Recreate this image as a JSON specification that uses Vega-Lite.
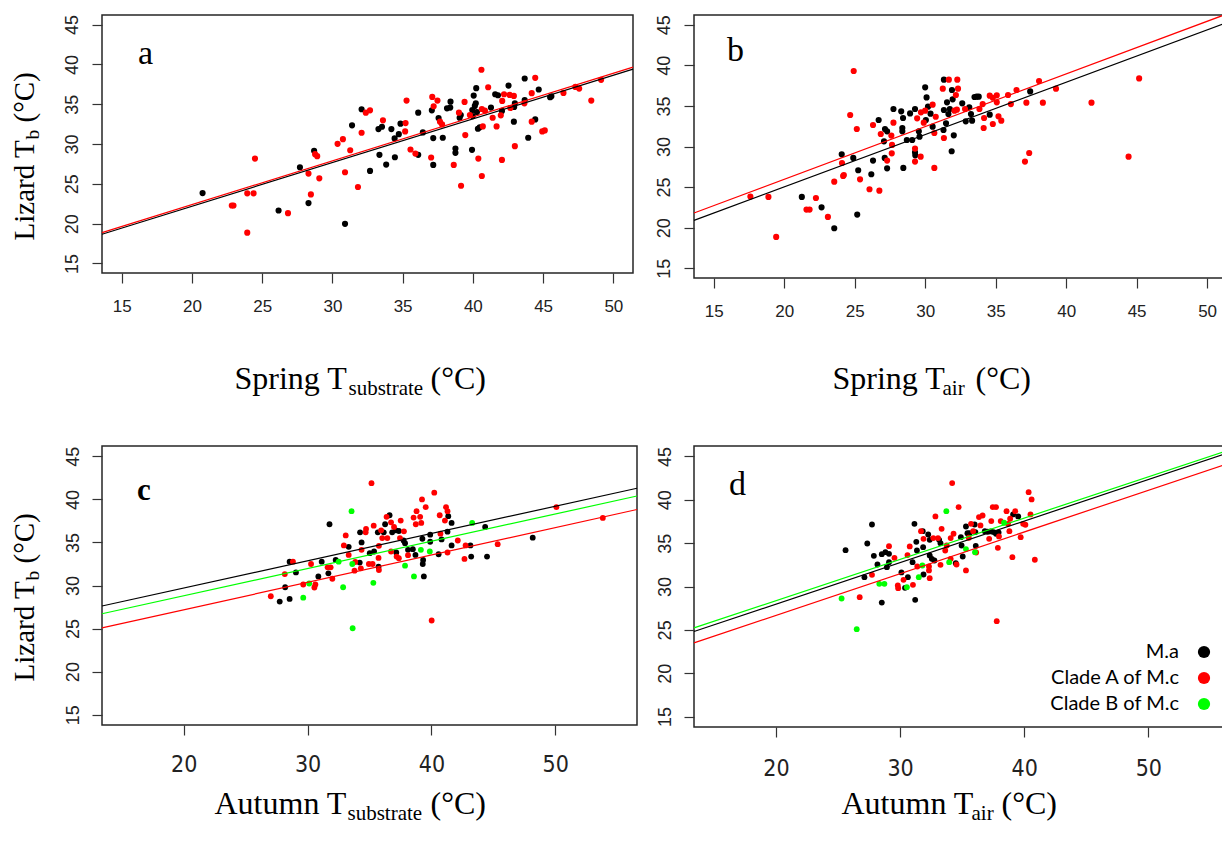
{
"$schema": "https://vega.github.io/schema/vega-lite/v6.json",
"background": "white",
"padding": {"left": 9, "top": 11, "right": 0, "bottom": 0},
"columns": 2,
"spacing": {"row": 168, "column": 57},
"bounds": "flush",
"resolve": {"scale": {"color": "independent"}, "legend": {"color": "independent"}},
"config": {
 "view": {"stroke": "#262626", "strokeWidth": 1.5},
 "axis": {"grid": false, "domain": false, "labelFlush": false, "labelOverlap": false, "titleFontWeight": "normal", "tickColor": "#333333", "tickWidth": 1.2, "tickSize": 10},
 "title": {"fontWeight": "normal"}
},
"datasets": {
 "a": [
{"g":"M.a","x":20.76,"y":23.84},{"g":"M.a","x":26.17,"y":21.65},{"g":"M.a","x":28.30,"y":22.58},{"g":"M.a","x":27.69,"y":27.08},{"g":"M.a","x":28.70,"y":29.14},{"g":"M.a","x":30.90,"y":19.97},{"g":"M.a","x":31.40,"y":32.34},{"g":"M.a","x":32.08,"y":34.36},{"g":"M.a","x":32.68,"y":26.62},{"g":"M.a","x":33.35,"y":28.64},{"g":"M.a","x":33.28,"y":31.87},{"g":"M.a","x":33.53,"y":32.17},{"g":"M.a","x":33.83,"y":27.41},{"g":"M.a","x":34.20,"y":31.87},{"g":"M.a","x":34.43,"y":30.70},{"g":"M.a","x":34.45,"y":28.34},{"g":"M.a","x":34.73,"y":31.24},{"g":"M.a","x":34.85,"y":32.55},{"g":"M.a","x":36.11,"y":33.94},{"g":"M.a","x":36.11,"y":28.64},{"g":"M.a","x":36.44,"y":31.45},{"g":"M.a","x":37.08,"y":34.23},{"g":"M.a","x":37.18,"y":30.74},{"g":"M.a","x":37.18,"y":27.37},{"g":"M.a","x":37.56,"y":33.26},{"g":"M.a","x":37.86,"y":30.78},{"g":"M.a","x":38.16,"y":34.48},{"g":"M.a","x":38.41,"y":35.32},{"g":"M.a","x":38.39,"y":34.57},{"g":"M.a","x":38.76,"y":29.43},{"g":"M.a","x":38.76,"y":28.89},{"g":"M.a","x":39.06,"y":33.30},{"g":"M.a","x":39.14,"y":33.64},{"g":"M.a","x":39.94,"y":29.27},{"g":"M.a","x":39.99,"y":33.51},{"g":"M.a","x":40.06,"y":36.08},{"g":"M.a","x":40.14,"y":34.78},{"g":"M.a","x":40.21,"y":35.11},{"g":"M.a","x":40.24,"y":37.01},{"g":"M.a","x":40.29,"y":34.02},{"g":"M.a","x":40.36,"y":31.92},{"g":"M.a","x":40.49,"y":32.09},{"g":"M.a","x":41.29,"y":34.57},{"g":"M.a","x":41.59,"y":36.25},{"g":"M.a","x":41.79,"y":36.12},{"g":"M.a","x":42.07,"y":34.15},{"g":"M.a","x":42.54,"y":37.34},{"g":"M.a","x":42.92,"y":32.80},{"g":"M.a","x":42.94,"y":34.65},{"g":"M.a","x":42.99,"y":35.11},{"g":"M.a","x":43.69,"y":38.23},{"g":"M.a","x":43.69,"y":35.53},{"g":"M.a","x":43.94,"y":30.78},{"g":"M.a","x":44.44,"y":33.09},{"g":"M.a","x":44.69,"y":36.84},{"g":"M.a","x":45.50,"y":35.87},{"g":"M.a","x":45.59,"y":36.00},{"g":"M.a","x":39.96,"y":34.27},
{"g":"Clade A of M.c","x":22.84,"y":22.28},{"g":"Clade A of M.c","x":22.96,"y":22.28},{"g":"Clade A of M.c","x":23.94,"y":23.80},{"g":"Clade A of M.c","x":24.39,"y":23.80},{"g":"Clade A of M.c","x":24.49,"y":28.17},{"g":"Clade A of M.c","x":23.94,"y":18.87},{"g":"Clade A of M.c","x":26.84,"y":21.31},{"g":"Clade A of M.c","x":28.47,"y":23.67},{"g":"Clade A of M.c","x":28.30,"y":26.28},{"g":"Clade A of M.c","x":29.07,"y":25.69},{"g":"Clade A of M.c","x":28.77,"y":28.72},{"g":"Clade A of M.c","x":28.92,"y":28.47},{"g":"Clade A of M.c","x":30.37,"y":30.02},{"g":"Clade A of M.c","x":30.75,"y":30.61},{"g":"Clade A of M.c","x":30.90,"y":26.45},{"g":"Clade A of M.c","x":31.27,"y":29.22},{"g":"Clade A of M.c","x":31.82,"y":24.60},{"g":"Clade A of M.c","x":32.08,"y":31.41},{"g":"Clade A of M.c","x":32.38,"y":33.94},{"g":"Clade A of M.c","x":32.68,"y":34.23},{"g":"Clade A of M.c","x":33.60,"y":32.97},{"g":"Clade A of M.c","x":35.21,"y":32.63},{"g":"Clade A of M.c","x":35.18,"y":31.58},{"g":"Clade A of M.c","x":35.28,"y":35.45},{"g":"Clade A of M.c","x":35.56,"y":29.31},{"g":"Clade A of M.c","x":35.91,"y":28.80},{"g":"Clade A of M.c","x":37.03,"y":28.30},{"g":"Clade A of M.c","x":37.11,"y":35.91},{"g":"Clade A of M.c","x":37.21,"y":34.74},{"g":"Clade A of M.c","x":37.48,"y":35.45},{"g":"Clade A of M.c","x":37.66,"y":32.80},{"g":"Clade A of M.c","x":37.81,"y":32.46},{"g":"Clade A of M.c","x":38.64,"y":27.37},{"g":"Clade A of M.c","x":39.01,"y":33.94},{"g":"Clade A of M.c","x":39.16,"y":24.76},{"g":"Clade A of M.c","x":39.41,"y":35.28},{"g":"Clade A of M.c","x":39.46,"y":31.12},{"g":"Clade A of M.c","x":39.79,"y":33.64},{"g":"Clade A of M.c","x":40.39,"y":28.17},{"g":"Clade A of M.c","x":40.61,"y":39.32},{"g":"Clade A of M.c","x":40.64,"y":25.98},{"g":"Clade A of M.c","x":40.64,"y":34.40},{"g":"Clade A of M.c","x":40.71,"y":32.21},{"g":"Clade A of M.c","x":40.86,"y":34.19},{"g":"Clade A of M.c","x":41.09,"y":37.13},{"g":"Clade A of M.c","x":41.41,"y":33.30},{"g":"Clade A of M.c","x":41.69,"y":32.21},{"g":"Clade A of M.c","x":41.99,"y":33.60},{"g":"Clade A of M.c","x":42.07,"y":28.00},{"g":"Clade A of M.c","x":42.09,"y":35.41},{"g":"Clade A of M.c","x":42.22,"y":36.25},{"g":"Clade A of M.c","x":42.62,"y":36.16},{"g":"Clade A of M.c","x":42.92,"y":36.04},{"g":"Clade A of M.c","x":42.67,"y":34.52},{"g":"Clade A of M.c","x":42.99,"y":29.73},{"g":"Clade A of M.c","x":43.67,"y":35.11},{"g":"Clade A of M.c","x":44.19,"y":36.38},{"g":"Clade A of M.c","x":44.19,"y":32.80},{"g":"Clade A of M.c","x":44.44,"y":38.31},{"g":"Clade A of M.c","x":44.94,"y":31.58},{"g":"Clade A of M.c","x":45.12,"y":31.71},{"g":"Clade A of M.c","x":46.45,"y":36.42},{"g":"Clade A of M.c","x":47.30,"y":37.17},{"g":"Clade A of M.c","x":47.57,"y":36.96},{"g":"Clade A of M.c","x":48.43,"y":35.45},{"g":"Clade A of M.c","x":49.13,"y":38.06}
 ],
 "aL": [
{"g":"M.a","x":13.6,"y":18.67},{"g":"M.a","x":51.4,"y":39.4},
{"g":"Clade A of M.c","x":13.6,"y":18.87},{"g":"Clade A of M.c","x":51.4,"y":39.65}
 ],
 "b": [
{"g":"M.a","x":21.25,"y":23.79},{"g":"M.a","x":22.65,"y":22.51},{"g":"M.a","x":23.55,"y":19.93},{"g":"M.a","x":25.18,"y":21.61},{"g":"M.a","x":24.08,"y":29.04},{"g":"M.a","x":24.90,"y":28.59},{"g":"M.a","x":25.25,"y":27.07},{"g":"M.a","x":26.18,"y":26.58},{"g":"M.a","x":26.30,"y":28.26},{"g":"M.a","x":26.70,"y":33.26},{"g":"M.a","x":27.08,"y":30.64},{"g":"M.a","x":27.15,"y":32.16},{"g":"M.a","x":27.30,"y":31.87},{"g":"M.a","x":27.13,"y":28.59},{"g":"M.a","x":27.30,"y":27.31},{"g":"M.a","x":27.75,"y":34.62},{"g":"M.a","x":28.30,"y":34.33},{"g":"M.a","x":28.43,"y":33.51},{"g":"M.a","x":28.38,"y":32.28},{"g":"M.a","x":28.38,"y":31.87},{"g":"M.a","x":28.45,"y":27.36},{"g":"M.a","x":28.70,"y":30.80},{"g":"M.a","x":28.93,"y":34.08},{"g":"M.a","x":29.08,"y":30.80},{"g":"M.a","x":29.28,"y":34.62},{"g":"M.a","x":29.28,"y":29.28},{"g":"M.a","x":29.30,"y":28.91},{"g":"M.a","x":29.55,"y":31.87},{"g":"M.a","x":29.60,"y":31.21},{"g":"M.a","x":30.00,"y":37.29},{"g":"M.a","x":30.10,"y":36.05},{"g":"M.a","x":30.20,"y":34.91},{"g":"M.a","x":30.05,"y":33.26},{"g":"M.a","x":30.38,"y":34.04},{"g":"M.a","x":30.53,"y":32.44},{"g":"M.a","x":31.33,"y":38.23},{"g":"M.a","x":31.33,"y":34.50},{"g":"M.a","x":31.30,"y":32.03},{"g":"M.a","x":31.48,"y":32.85},{"g":"M.a","x":31.55,"y":35.44},{"g":"M.a","x":31.65,"y":34.00},{"g":"M.a","x":31.75,"y":34.62},{"g":"M.a","x":31.90,"y":36.96},{"g":"M.a","x":31.95,"y":35.81},{"g":"M.a","x":31.88,"y":29.41},{"g":"M.a","x":32.03,"y":31.38},{"g":"M.a","x":32.63,"y":35.32},{"g":"M.a","x":32.88,"y":33.10},{"g":"M.a","x":33.13,"y":34.82},{"g":"M.a","x":33.25,"y":34.00},{"g":"M.a","x":33.33,"y":33.18},{"g":"M.a","x":33.50,"y":36.10},{"g":"M.a","x":33.65,"y":36.14},{"g":"M.a","x":33.80,"y":36.14},{"g":"M.a","x":34.58,"y":33.92},{"g":"M.a","x":37.45,"y":36.79},
{"g":"Clade A of M.c","x":17.60,"y":23.83},{"g":"Clade A of M.c","x":18.88,"y":23.79},{"g":"Clade A of M.c","x":19.43,"y":18.86},{"g":"Clade A of M.c","x":21.58,"y":22.23},{"g":"Clade A of M.c","x":21.80,"y":22.23},{"g":"Clade A of M.c","x":22.25,"y":23.66},{"g":"Clade A of M.c","x":23.10,"y":21.32},{"g":"Clade A of M.c","x":23.55,"y":25.67},{"g":"Clade A of M.c","x":24.10,"y":27.97},{"g":"Clade A of M.c","x":24.18,"y":26.37},{"g":"Clade A of M.c","x":24.23,"y":26.49},{"g":"Clade A of M.c","x":24.68,"y":33.88},{"g":"Clade A of M.c","x":24.93,"y":39.30},{"g":"Clade A of M.c","x":25.15,"y":32.16},{"g":"Clade A of M.c","x":25.38,"y":25.96},{"g":"Clade A of M.c","x":26.05,"y":24.73},{"g":"Clade A of M.c","x":26.30,"y":32.65},{"g":"Clade A of M.c","x":26.75,"y":24.56},{"g":"Clade A of M.c","x":26.85,"y":31.54},{"g":"Clade A of M.c","x":27.30,"y":28.26},{"g":"Clade A of M.c","x":27.63,"y":29.16},{"g":"Clade A of M.c","x":27.65,"y":30.19},{"g":"Clade A of M.c","x":27.75,"y":32.94},{"g":"Clade A of M.c","x":27.60,"y":31.34},{"g":"Clade A of M.c","x":29.28,"y":29.74},{"g":"Clade A of M.c","x":29.28,"y":28.14},{"g":"Clade A of M.c","x":29.43,"y":33.47},{"g":"Clade A of M.c","x":29.68,"y":28.75},{"g":"Clade A of M.c","x":29.70,"y":34.21},{"g":"Clade A of M.c","x":29.90,"y":32.94},{"g":"Clade A of M.c","x":30.00,"y":34.41},{"g":"Clade A of M.c","x":30.53,"y":35.15},{"g":"Clade A of M.c","x":30.65,"y":31.66},{"g":"Clade A of M.c","x":30.75,"y":33.67},{"g":"Clade A of M.c","x":30.65,"y":27.36},{"g":"Clade A of M.c","x":31.25,"y":37.12},{"g":"Clade A of M.c","x":31.33,"y":31.05},{"g":"Clade A of M.c","x":31.68,"y":38.23},{"g":"Clade A of M.c","x":32.28,"y":38.23},{"g":"Clade A of M.c","x":32.33,"y":37.12},{"g":"Clade A of M.c","x":32.18,"y":36.34},{"g":"Clade A of M.c","x":32.08,"y":34.41},{"g":"Clade A of M.c","x":32.25,"y":34.54},{"g":"Clade A of M.c","x":32.83,"y":34.62},{"g":"Clade A of M.c","x":33.85,"y":34.62},{"g":"Clade A of M.c","x":34.08,"y":35.23},{"g":"Clade A of M.c","x":34.18,"y":33.51},{"g":"Clade A of M.c","x":34.15,"y":32.28},{"g":"Clade A of M.c","x":34.58,"y":36.26},{"g":"Clade A of M.c","x":34.80,"y":36.01},{"g":"Clade A of M.c","x":35.08,"y":36.30},{"g":"Clade A of M.c","x":35.08,"y":35.44},{"g":"Clade A of M.c","x":34.80,"y":32.77},{"g":"Clade A of M.c","x":35.20,"y":33.72},{"g":"Clade A of M.c","x":35.40,"y":33.18},{"g":"Clade A of M.c","x":35.88,"y":36.34},{"g":"Clade A of M.c","x":36.08,"y":35.23},{"g":"Clade A of M.c","x":36.48,"y":36.96},{"g":"Clade A of M.c","x":37.08,"y":28.14},{"g":"Clade A of M.c","x":37.18,"y":35.40},{"g":"Clade A of M.c","x":37.38,"y":29.20},{"g":"Clade A of M.c","x":38.08,"y":38.07},{"g":"Clade A of M.c","x":38.35,"y":35.40},{"g":"Clade A of M.c","x":39.28,"y":37.12},{"g":"Clade A of M.c","x":41.80,"y":35.40},{"g":"Clade A of M.c","x":44.43,"y":28.75},{"g":"Clade A of M.c","x":45.18,"y":38.39}
 ],
 "bL": [
{"g":"M.a","x":13.6,"y":20.9},{"g":"M.a","x":51.2,"y":45.15},
{"g":"Clade A of M.c","x":13.6,"y":21.8},{"g":"Clade A of M.c","x":51.2,"y":46.2}
 ],
 "c": [
{"g":"M.a","x":27.75,"y":28.13},{"g":"M.a","x":28.55,"y":28.44},{"g":"M.a","x":28.19,"y":29.80},{"g":"M.a","x":29.06,"y":31.52},{"g":"M.a","x":28.55,"y":32.77},{"g":"M.a","x":30.87,"y":31.05},{"g":"M.a","x":31.14,"y":32.77},{"g":"M.a","x":31.68,"y":31.41},{"g":"M.a","x":31.77,"y":37.11},{"g":"M.a","x":32.27,"y":32.97},{"g":"M.a","x":33.32,"y":34.49},{"g":"M.a","x":34.24,"y":36.17},{"g":"M.a","x":34.36,"y":35.00},{"g":"M.a","x":34.21,"y":32.66},{"g":"M.a","x":35.02,"y":33.75},{"g":"M.a","x":35.37,"y":33.95},{"g":"M.a","x":35.67,"y":36.17},{"g":"M.a","x":36.15,"y":36.17},{"g":"M.a","x":36.26,"y":37.11},{"g":"M.a","x":36.62,"y":38.16},{"g":"M.a","x":36.83,"y":36.17},{"g":"M.a","x":37.13,"y":36.41},{"g":"M.a","x":37.37,"y":36.33},{"g":"M.a","x":37.16,"y":33.83},{"g":"M.a","x":37.75,"y":35.23},{"g":"M.a","x":37.87,"y":34.92},{"g":"M.a","x":38.11,"y":34.14},{"g":"M.a","x":38.50,"y":34.22},{"g":"M.a","x":38.71,"y":33.55},{"g":"M.a","x":35.73,"y":32.19},{"g":"M.a","x":39.27,"y":35.43},{"g":"M.a","x":39.33,"y":32.97},{"g":"M.a","x":39.30,"y":32.50},{"g":"M.a","x":39.39,"y":31.05},{"g":"M.a","x":39.90,"y":35.90},{"g":"M.a","x":39.90,"y":35.08},{"g":"M.a","x":40.58,"y":33.63},{"g":"M.a","x":40.82,"y":35.35},{"g":"M.a","x":41.30,"y":36.25},{"g":"M.a","x":41.36,"y":38.05},{"g":"M.a","x":41.63,"y":37.27},{"g":"M.a","x":41.63,"y":34.65},{"g":"M.a","x":43.15,"y":34.65},{"g":"M.a","x":43.21,"y":33.36},{"g":"M.a","x":44.34,"y":36.80},{"g":"M.a","x":44.49,"y":33.36},{"g":"M.a","x":48.18,"y":35.55},
{"g":"Clade A of M.c","x":27.03,"y":28.75},{"g":"Clade A of M.c","x":28.16,"y":31.33},{"g":"Clade A of M.c","x":28.82,"y":32.77},{"g":"Clade A of M.c","x":29.65,"y":30.12},{"g":"Clade A of M.c","x":30.28,"y":32.50},{"g":"Clade A of M.c","x":30.55,"y":29.77},{"g":"Clade A of M.c","x":30.63,"y":30.12},{"g":"Clade A of M.c","x":31.62,"y":32.11},{"g":"Clade A of M.c","x":31.86,"y":32.11},{"g":"Clade A of M.c","x":32.00,"y":30.78},{"g":"Clade A of M.c","x":32.93,"y":34.65},{"g":"Clade A of M.c","x":33.08,"y":35.82},{"g":"Clade A of M.c","x":33.32,"y":33.55},{"g":"Clade A of M.c","x":33.79,"y":31.72},{"g":"Clade A of M.c","x":33.85,"y":32.73},{"g":"Clade A of M.c","x":34.30,"y":31.99},{"g":"Clade A of M.c","x":34.36,"y":34.14},{"g":"Clade A of M.c","x":34.69,"y":36.17},{"g":"Clade A of M.c","x":34.72,"y":36.56},{"g":"Clade A of M.c","x":34.95,"y":32.50},{"g":"Clade A of M.c","x":35.25,"y":32.50},{"g":"Clade A of M.c","x":35.16,"y":41.88},{"g":"Clade A of M.c","x":35.34,"y":36.95},{"g":"Clade A of M.c","x":35.76,"y":34.61},{"g":"Clade A of M.c","x":35.73,"y":33.20},{"g":"Clade A of M.c","x":35.76,"y":31.80},{"g":"Clade A of M.c","x":35.94,"y":36.41},{"g":"Clade A of M.c","x":36.03,"y":35.51},{"g":"Clade A of M.c","x":36.38,"y":37.97},{"g":"Clade A of M.c","x":36.44,"y":35.51},{"g":"Clade A of M.c","x":36.74,"y":37.34},{"g":"Clade A of M.c","x":36.74,"y":33.95},{"g":"Clade A of M.c","x":36.98,"y":36.80},{"g":"Clade A of M.c","x":37.19,"y":33.36},{"g":"Clade A of M.c","x":37.37,"y":33.16},{"g":"Clade A of M.c","x":37.46,"y":35.51},{"g":"Clade A of M.c","x":37.52,"y":37.54},{"g":"Clade A of M.c","x":37.78,"y":36.29},{"g":"Clade A of M.c","x":38.11,"y":33.52},{"g":"Clade A of M.c","x":38.56,"y":37.89},{"g":"Clade A of M.c","x":38.74,"y":37.11},{"g":"Clade A of M.c","x":38.80,"y":38.63},{"g":"Clade A of M.c","x":39.09,"y":37.97},{"g":"Clade A of M.c","x":39.18,"y":37.27},{"g":"Clade A of M.c","x":39.24,"y":40.00},{"g":"Clade A of M.c","x":39.54,"y":39.10},{"g":"Clade A of M.c","x":40.02,"y":25.94},{"g":"Clade A of M.c","x":40.23,"y":40.78},{"g":"Clade A of M.c","x":40.67,"y":38.16},{"g":"Clade A of M.c","x":40.73,"y":36.02},{"g":"Clade A of M.c","x":41.09,"y":37.54},{"g":"Clade A of M.c","x":41.18,"y":39.10},{"g":"Clade A of M.c","x":41.30,"y":38.63},{"g":"Clade A of M.c","x":41.30,"y":33.83},{"g":"Clade A of M.c","x":42.13,"y":35.23},{"g":"Clade A of M.c","x":42.67,"y":33.09},{"g":"Clade A of M.c","x":42.76,"y":34.65},{"g":"Clade A of M.c","x":45.35,"y":34.80},{"g":"Clade A of M.c","x":50.09,"y":39.10},{"g":"Clade A of M.c","x":53.84,"y":37.85},
{"g":"Clade B of M.c","x":29.65,"y":28.59},{"g":"Clade B of M.c","x":30.13,"y":30.23},{"g":"Clade B of M.c","x":32.51,"y":32.77},{"g":"Clade B of M.c","x":32.87,"y":29.80},{"g":"Clade B of M.c","x":33.55,"y":38.63},{"g":"Clade B of M.c","x":33.61,"y":32.50},{"g":"Clade B of M.c","x":33.64,"y":25.04},{"g":"Clade B of M.c","x":35.31,"y":30.31},{"g":"Clade B of M.c","x":37.87,"y":32.30},{"g":"Clade B of M.c","x":38.59,"y":31.05},{"g":"Clade B of M.c","x":39.15,"y":34.14},{"g":"Clade B of M.c","x":39.87,"y":33.95},{"g":"Clade B of M.c","x":43.29,"y":37.27}
 ],
 "cL": [
{"g":"M.a","x":13.4,"y":27.62},{"g":"M.a","x":56.6,"y":41.29},
{"g":"Clade A of M.c","x":13.4,"y":25.08},{"g":"Clade A of M.c","x":56.6,"y":38.83},
{"g":"Clade B of M.c","x":13.4,"y":26.72},{"g":"Clade B of M.c","x":56.6,"y":40.39}
 ],
 "d": [
{"g":"M.a","x":25.61,"y":34.19},{"g":"M.a","x":27.13,"y":31.08},{"g":"M.a","x":27.36,"y":34.96},{"g":"M.a","x":27.74,"y":37.15},{"g":"M.a","x":27.89,"y":33.54},{"g":"M.a","x":28.18,"y":32.54},{"g":"M.a","x":28.53,"y":28.15},{"g":"M.a","x":28.53,"y":33.73},{"g":"M.a","x":28.82,"y":33.96},{"g":"M.a","x":28.94,"y":32.23},{"g":"M.a","x":29.11,"y":33.77},{"g":"M.a","x":29.11,"y":32.81},{"g":"M.a","x":30.11,"y":31.62},{"g":"M.a","x":30.40,"y":29.85},{"g":"M.a","x":30.63,"y":31.08},{"g":"M.a","x":31.01,"y":32.81},{"g":"M.a","x":31.16,"y":37.23},{"g":"M.a","x":31.22,"y":28.46},{"g":"M.a","x":31.31,"y":35.15},{"g":"M.a","x":31.36,"y":34.15},{"g":"M.a","x":31.83,"y":36.38},{"g":"M.a","x":31.86,"y":34.54},{"g":"M.a","x":31.89,"y":31.38},{"g":"M.a","x":32.27,"y":36.00},{"g":"M.a","x":32.39,"y":35.38},{"g":"M.a","x":32.39,"y":33.58},{"g":"M.a","x":32.56,"y":33.19},{"g":"M.a","x":32.77,"y":33.00},{"g":"M.a","x":33.15,"y":35.38},{"g":"M.a","x":33.26,"y":35.00},{"g":"M.a","x":34.49,"y":32.69},{"g":"M.a","x":34.90,"y":35.69},{"g":"M.a","x":34.96,"y":34.73},{"g":"M.a","x":35.05,"y":33.46},{"g":"M.a","x":35.31,"y":36.92},{"g":"M.a","x":35.43,"y":36.15},{"g":"M.a","x":35.60,"y":36.15},{"g":"M.a","x":36.01,"y":37.15},{"g":"M.a","x":36.07,"y":36.27},{"g":"M.a","x":36.10,"y":34.69},{"g":"M.a","x":36.83,"y":36.38},{"g":"M.a","x":37.06,"y":36.31},{"g":"M.a","x":37.29,"y":36.35},{"g":"M.a","x":37.53,"y":36.27},{"g":"M.a","x":37.73,"y":36.08},{"g":"M.a","x":37.94,"y":36.23},{"g":"M.a","x":39.11,"y":38.31},{"g":"M.a","x":39.52,"y":38.08},
{"g":"Clade A of M.c","x":26.75,"y":28.77},{"g":"Clade A of M.c","x":27.74,"y":31.35},{"g":"Clade A of M.c","x":29.11,"y":34.65},{"g":"Clade A of M.c","x":29.55,"y":33.31},{"g":"Clade A of M.c","x":29.82,"y":30.12},{"g":"Clade A of M.c","x":29.85,"y":29.81},{"g":"Clade A of M.c","x":30.28,"y":30.77},{"g":"Clade A of M.c","x":30.60,"y":33.62},{"g":"Clade A of M.c","x":30.78,"y":34.62},{"g":"Clade A of M.c","x":31.04,"y":30.19},{"g":"Clade A of M.c","x":31.39,"y":32.31},{"g":"Clade A of M.c","x":31.69,"y":36.38},{"g":"Clade A of M.c","x":31.89,"y":35.50},{"g":"Clade A of M.c","x":32.33,"y":32.31},{"g":"Clade A of M.c","x":32.33,"y":31.85},{"g":"Clade A of M.c","x":32.39,"y":30.96},{"g":"Clade A of M.c","x":32.68,"y":35.58},{"g":"Clade A of M.c","x":32.85,"y":38.08},{"g":"Clade A of M.c","x":33.06,"y":35.58},{"g":"Clade A of M.c","x":33.26,"y":32.50},{"g":"Clade A of M.c","x":33.35,"y":36.65},{"g":"Clade A of M.c","x":33.64,"y":34.15},{"g":"Clade A of M.c","x":33.76,"y":34.73},{"g":"Clade A of M.c","x":34.08,"y":35.58},{"g":"Clade A of M.c","x":34.08,"y":33.19},{"g":"Clade A of M.c","x":34.20,"y":41.92},{"g":"Clade A of M.c","x":34.31,"y":36.08},{"g":"Clade A of M.c","x":34.55,"y":32.54},{"g":"Clade A of M.c","x":34.72,"y":39.15},{"g":"Clade A of M.c","x":35.31,"y":31.85},{"g":"Clade A of M.c","x":35.54,"y":35.62},{"g":"Clade A of M.c","x":35.72,"y":37.23},{"g":"Clade A of M.c","x":35.89,"y":36.38},{"g":"Clade A of M.c","x":36.13,"y":33.92},{"g":"Clade A of M.c","x":36.36,"y":38.00},{"g":"Clade A of M.c","x":36.48,"y":37.04},{"g":"Clade A of M.c","x":36.65,"y":38.19},{"g":"Clade A of M.c","x":37.18,"y":35.50},{"g":"Clade A of M.c","x":37.35,"y":37.54},{"g":"Clade A of M.c","x":37.47,"y":39.15},{"g":"Clade A of M.c","x":37.73,"y":39.15},{"g":"Clade A of M.c","x":37.79,"y":26.00},{"g":"Clade A of M.c","x":37.88,"y":34.46},{"g":"Clade A of M.c","x":37.97,"y":35.77},{"g":"Clade A of M.c","x":38.11,"y":37.54},{"g":"Clade A of M.c","x":38.58,"y":38.69},{"g":"Clade A of M.c","x":38.70,"y":37.23},{"g":"Clade A of M.c","x":38.81,"y":36.38},{"g":"Clade A of M.c","x":38.87,"y":37.81},{"g":"Clade A of M.c","x":39.05,"y":33.38},{"g":"Clade A of M.c","x":39.28,"y":38.69},{"g":"Clade A of M.c","x":39.72,"y":35.69},{"g":"Clade A of M.c","x":39.92,"y":37.23},{"g":"Clade A of M.c","x":40.10,"y":37.12},{"g":"Clade A of M.c","x":40.36,"y":40.88},{"g":"Clade A of M.c","x":40.60,"y":40.04},{"g":"Clade A of M.c","x":40.51,"y":38.31},{"g":"Clade A of M.c","x":40.86,"y":33.08},
{"g":"Clade B of M.c","x":25.29,"y":28.62},{"g":"Clade B of M.c","x":26.51,"y":25.08},{"g":"Clade B of M.c","x":28.33,"y":30.31},{"g":"Clade B of M.c","x":28.74,"y":30.31},{"g":"Clade B of M.c","x":30.55,"y":29.92},{"g":"Clade B of M.c","x":31.51,"y":31.08},{"g":"Clade B of M.c","x":31.80,"y":32.42},{"g":"Clade B of M.c","x":33.73,"y":38.69},{"g":"Clade B of M.c","x":33.96,"y":32.81},{"g":"Clade B of M.c","x":35.31,"y":34.31},{"g":"Clade B of M.c","x":36.04,"y":33.96},{"g":"Clade B of M.c","x":38.38,"y":37.35}
 ],
 "dL": [
{"g":"M.a","x":13.4,"y":24.81},{"g":"M.a","x":56.1,"y":45.25},
{"g":"Clade A of M.c","x":13.4,"y":23.5},{"g":"Clade A of M.c","x":56.1,"y":44.02},
{"g":"Clade B of M.c","x":13.4,"y":25.23},{"g":"Clade B of M.c","x":56.1,"y":45.55}
 ]
},
"concat": [
 {
  "width": 531, "height": 258,
  "title": {"text": "a", "anchor": "start", "frame": "group", "orient": "top", "offset": -83, "dx": 36, "baseline": "alphabetic", "font": "Liberation Serif", "fontSize": 34, "fontWeight": "normal", "color": "#000000"},
  "resolve": {"axis": {"x": "independent", "y": "independent"}},
  "layer": [
   {"data": {"name": "a"}, "mark": {"type": "circle", "size": 38, "opacity": 1},
    "encoding": {
     "x": {"field": "x", "type": "quantitative", "scale": {"domain": [13.6, 51.4], "nice": false, "zero": false},
      "axis": {"orient": "bottom", "values": [15,20,25,30,35,40,45,50], "labelFont": "Liberation Sans", "labelFontSize": 17, "labelColor": "#222222", "labelPadding": 15, "title": "Spring T", "titleX": 132, "titleY": 115, "titleAlign": "left", "titleBaseline": "alphabetic", "titleFont": "Liberation Serif", "titleFontSize": 32, "titleColor": "#000000"}},
     "y": {"field": "y", "type": "quantitative", "scale": {"domain": [13.8, 46.2], "nice": false, "zero": false},
      "axis": {"orient": "left", "values": [15,20,25,30,35,40,45], "labelAngle": -90, "labelAlign": "center", "labelBaseline": "alphabetic", "labelFont": "Liberation Sans", "labelFontSize": 18, "labelColor": "#222222", "labelPadding": 15, "title": "Lizard T", "titleAngle": -90, "titleX": -69, "titleY": 225, "titleAlign": "left", "titleBaseline": "alphabetic", "titleFont": "Liberation Serif", "titleFontSize": 29, "titleColor": "#000000"}},
     "color": {"field": "g", "type": "nominal", "scale": {"domain": ["M.a", "Clade A of M.c", "Clade B of M.c"], "range": ["#000000", "#ff0000", "#00ff00"]}, "legend": null}
    }},
   {"data": {"name": "aL"}, "transform": [{"filter": "datum.g === 'M.a'"}], "mark": {"type": "line", "color": "#000000", "strokeWidth": 1.2},
    "encoding": {
     "x": {"field": "x", "type": "quantitative", "scale": {"domain": [13.6, 51.4], "nice": false, "zero": false},
      "axis": {"orient": "bottom", "ticks": false, "labels": false, "title": "substrate", "titleX": 246, "titleY": 121, "titleAlign": "left", "titleBaseline": "alphabetic", "titleFont": "Liberation Serif", "titleFontSize": 21, "titleColor": "#000000"}},
     "y": {"field": "y", "type": "quantitative", "scale": {"domain": [13.8, 46.2], "nice": false, "zero": false},
      "axis": {"orient": "left", "ticks": false, "labels": false, "title": "b", "titleAngle": -90, "titleX": -64, "titleY": 124, "titleAlign": "left", "titleBaseline": "alphabetic", "titleFont": "Liberation Serif", "titleFontSize": 19.5, "titleColor": "#000000"}}
    }},
   {"data": {"name": "aL"}, "transform": [{"filter": "datum.g === 'Clade A of M.c'"}], "mark": {"type": "line", "color": "#ff0000", "strokeWidth": 1.2},
    "encoding": {
     "x": {"field": "x", "type": "quantitative", "scale": {"domain": [13.6, 51.4], "nice": false, "zero": false},
      "axis": {"orient": "bottom", "ticks": false, "labels": false, "title": "(°C)", "titleX": 328, "titleY": 115, "titleAlign": "left", "titleBaseline": "alphabetic", "titleFont": "Liberation Serif", "titleFontSize": 32, "titleColor": "#000000"}},
     "y": {"field": "y", "type": "quantitative", "scale": {"domain": [13.8, 46.2], "nice": false, "zero": false},
      "axis": {"orient": "left", "ticks": false, "labels": false, "title": "(°C)", "titleAngle": -90, "titleX": -69, "titleY": 107, "titleAlign": "left", "titleBaseline": "alphabetic", "titleFont": "Liberation Serif", "titleFontSize": 29, "titleColor": "#000000"}}
    }}
  ]
 },
 {
  "width": 530, "height": 263,
  "title": {"text": "b", "anchor": "start", "frame": "group", "orient": "top", "offset": -82, "dx": 33, "baseline": "alphabetic", "font": "Liberation Serif", "fontSize": 34, "fontWeight": "normal", "color": "#000000"},
  "resolve": {"axis": {"x": "independent", "y": "independent"}},
  "layer": [
   {"data": {"name": "b"}, "mark": {"type": "circle", "size": 38, "opacity": 1},
    "encoding": {
     "x": {"field": "x", "type": "quantitative", "scale": {"domain": [13.6, 51.2], "nice": false, "zero": false},
      "axis": {"orient": "bottom", "values": [15,20,25,30,35,40,45,50], "labelFont": "Liberation Sans", "labelFontSize": 17, "labelColor": "#222222", "labelPadding": 15, "title": "Spring T", "titleX": 138, "titleY": 110, "titleAlign": "left", "titleBaseline": "alphabetic", "titleFont": "Liberation Serif", "titleFontSize": 32, "titleColor": "#000000"}},
     "y": {"field": "y", "type": "quantitative", "scale": {"domain": [13.8, 46.2], "nice": false, "zero": false},
      "axis": {"orient": "left", "values": [15,20,25,30,35,40,45], "labelAngle": -90, "labelAlign": "center", "labelBaseline": "alphabetic", "labelFont": "Liberation Sans", "labelFontSize": 18, "labelColor": "#222222", "labelPadding": 15, "title": null}},
     "color": {"field": "g", "type": "nominal", "scale": {"domain": ["M.a", "Clade A of M.c", "Clade B of M.c"], "range": ["#000000", "#ff0000", "#00ff00"]}, "legend": null}
    }},
   {"data": {"name": "bL"}, "transform": [{"filter": "datum.g === 'M.a'"}], "mark": {"type": "line", "color": "#000000", "strokeWidth": 1.2},
    "encoding": {
     "x": {"field": "x", "type": "quantitative", "scale": {"domain": [13.6, 51.2], "nice": false, "zero": false},
      "axis": {"orient": "bottom", "ticks": false, "labels": false, "title": "air", "titleX": 248, "titleY": 116, "titleAlign": "left", "titleBaseline": "alphabetic", "titleFont": "Liberation Serif", "titleFontSize": 21, "titleColor": "#000000"}},
     "y": {"field": "y", "type": "quantitative", "scale": {"domain": [13.8, 46.2], "nice": false, "zero": false}, "axis": null}
    }},
   {"data": {"name": "bL"}, "transform": [{"filter": "datum.g === 'Clade A of M.c'"}], "mark": {"type": "line", "color": "#ff0000", "strokeWidth": 1.2},
    "encoding": {
     "x": {"field": "x", "type": "quantitative", "scale": {"domain": [13.6, 51.2], "nice": false, "zero": false},
      "axis": {"orient": "bottom", "ticks": false, "labels": false, "title": "(°C)", "titleX": 281, "titleY": 110, "titleAlign": "left", "titleBaseline": "alphabetic", "titleFont": "Liberation Serif", "titleFontSize": 32, "titleColor": "#000000"}},
     "y": {"field": "y", "type": "quantitative", "scale": {"domain": [13.8, 46.2], "nice": false, "zero": false}, "axis": null}
    }}
  ]
 },
 {
  "width": 535, "height": 279,
  "title": {"text": "c", "anchor": "start", "frame": "group", "orient": "top", "offset": -85, "dx": 35, "baseline": "alphabetic", "font": "Liberation Serif", "fontSize": 31, "fontWeight": "bold", "color": "#000000"},
  "resolve": {"axis": {"x": "independent", "y": "independent"}},
  "layer": [
   {"data": {"name": "c"}, "mark": {"type": "circle", "size": 34, "opacity": 1},
    "encoding": {
     "x": {"field": "x", "type": "quantitative", "scale": {"domain": [13.4, 56.6], "nice": false, "zero": false},
      "axis": {"orient": "bottom", "values": [20,30,40,50], "labelFont": "Liberation Sans Narrow, Arial Narrow, DejaVu Sans Condensed, Liberation Sans", "labelFontSize": 23, "labelColor": "#222222", "labelPadding": 18, "title": "Autumn T", "titleX": 112, "titleY": 88, "titleAlign": "left", "titleBaseline": "alphabetic", "titleFont": "Liberation Serif", "titleFontSize": 32, "titleColor": "#000000"}},
     "y": {"field": "y", "type": "quantitative", "scale": {"domain": [13.8, 46.2], "nice": false, "zero": false},
      "axis": {"orient": "left", "values": [15,20,25,30,35,40,45], "labelAngle": -90, "labelAlign": "center", "labelBaseline": "alphabetic", "labelFont": "Liberation Sans", "labelFontSize": 18, "labelColor": "#222222", "labelPadding": 14, "title": "Lizard T", "titleAngle": -90, "titleX": -69, "titleY": 235, "titleAlign": "left", "titleBaseline": "alphabetic", "titleFont": "Liberation Serif", "titleFontSize": 29, "titleColor": "#000000"}},
     "color": {"field": "g", "type": "nominal", "scale": {"domain": ["M.a", "Clade A of M.c", "Clade B of M.c"], "range": ["#000000", "#ff0000", "#00ff00"]}, "legend": null}
    }},
   {"data": {"name": "cL"}, "transform": [{"filter": "datum.g === 'M.a'"}], "mark": {"type": "line", "color": "#000000", "strokeWidth": 1.2},
    "encoding": {
     "x": {"field": "x", "type": "quantitative", "scale": {"domain": [13.4, 56.6], "nice": false, "zero": false},
      "axis": {"orient": "bottom", "ticks": false, "labels": false, "title": "substrate", "titleX": 245, "titleY": 94, "titleAlign": "left", "titleBaseline": "alphabetic", "titleFont": "Liberation Serif", "titleFontSize": 21, "titleColor": "#000000"}},
     "y": {"field": "y", "type": "quantitative", "scale": {"domain": [13.8, 46.2], "nice": false, "zero": false},
      "axis": {"orient": "left", "ticks": false, "labels": false, "title": "b", "titleAngle": -90, "titleX": -64, "titleY": 134, "titleAlign": "left", "titleBaseline": "alphabetic", "titleFont": "Liberation Serif", "titleFontSize": 19.5, "titleColor": "#000000"}}
    }},
   {"data": {"name": "cL"}, "transform": [{"filter": "datum.g === 'Clade A of M.c'"}], "mark": {"type": "line", "color": "#ff0000", "strokeWidth": 1.2},
    "encoding": {
     "x": {"field": "x", "type": "quantitative", "scale": {"domain": [13.4, 56.6], "nice": false, "zero": false},
      "axis": {"orient": "bottom", "ticks": false, "labels": false, "title": "(°C)", "titleX": 328, "titleY": 88, "titleAlign": "left", "titleBaseline": "alphabetic", "titleFont": "Liberation Serif", "titleFontSize": 32, "titleColor": "#000000"}},
     "y": {"field": "y", "type": "quantitative", "scale": {"domain": [13.8, 46.2], "nice": false, "zero": false},
      "axis": {"orient": "left", "ticks": false, "labels": false, "title": "(°C)", "titleAngle": -90, "titleX": -69, "titleY": 117, "titleAlign": "left", "titleBaseline": "alphabetic", "titleFont": "Liberation Serif", "titleFontSize": 29, "titleColor": "#000000"}}
    }},
   {"data": {"name": "cL"}, "transform": [{"filter": "datum.g === 'Clade B of M.c'"}], "mark": {"type": "line", "color": "#00ff00", "strokeWidth": 1.2},
    "encoding": {
     "x": {"field": "x", "type": "quantitative", "scale": {"domain": [13.4, 56.6], "nice": false, "zero": false}, "axis": null},
     "y": {"field": "y", "type": "quantitative", "scale": {"domain": [13.8, 46.2], "nice": false, "zero": false}, "axis": null}
    }}
  ]
 },
 {
  "width": 530, "height": 281,
  "title": {"text": "d", "anchor": "start", "frame": "group", "orient": "top", "offset": -83, "dx": 35, "baseline": "alphabetic", "font": "Liberation Serif", "fontSize": 34, "fontWeight": "normal", "color": "#000000"},
  "resolve": {"axis": {"x": "independent", "y": "independent"}},
  "layer": [
   {"data": {"name": "d"}, "mark": {"type": "circle", "size": 34, "opacity": 1},
    "encoding": {
     "x": {"field": "x", "type": "quantitative", "scale": {"domain": [13.4, 56.1], "nice": false, "zero": false},
      "axis": {"orient": "bottom", "values": [20,30,40,50], "labelFont": "Liberation Sans Narrow, Arial Narrow, DejaVu Sans Condensed, Liberation Sans", "labelFontSize": 23, "labelColor": "#222222", "labelPadding": 20, "title": "Autumn T", "titleX": 147, "titleY": 86, "titleAlign": "left", "titleBaseline": "alphabetic", "titleFont": "Liberation Serif", "titleFontSize": 32, "titleColor": "#000000"}},
     "y": {"field": "y", "type": "quantitative", "scale": {"domain": [13.8, 46.2], "nice": false, "zero": false},
      "axis": {"orient": "left", "values": [15,20,25,30,35,40,45], "labelAngle": -90, "labelAlign": "center", "labelBaseline": "alphabetic", "labelFont": "Liberation Sans", "labelFontSize": 18, "labelColor": "#222222", "labelPadding": 14, "title": null}},
     "color": {"field": "g", "type": "nominal", "scale": {"domain": ["M.a", "Clade A of M.c", "Clade B of M.c"], "range": ["#000000", "#ff0000", "#00ff00"]},
      "legend": {"orient": "bottom-right", "offset": 13.5, "title": null, "padding": 0, "labelFont": "Lato", "labelFontSize": 20, "labelColor": "#000000", "labelAlign": "right", "labelOffset": -35, "labelLimit": 300, "symbolType": "circle", "symbolSize": 150, "symbolStrokeWidth": 0, "symbolOpacity": 1, "rowPadding": 6,
       "encode": {"symbols": {"update": {"fill": {"signal": "datum.value === 'Clade B of M.c' ? '#92d050' : datum.value === 'Clade A of M.c' ? '#ff0000' : '#000000'"}, "stroke": {"value": "transparent"}}}}}}
    }},
   {"data": {"name": "dL"}, "transform": [{"filter": "datum.g === 'M.a'"}], "mark": {"type": "line", "color": "#000000", "strokeWidth": 1.2},
    "encoding": {
     "x": {"field": "x", "type": "quantitative", "scale": {"domain": [13.4, 56.1], "nice": false, "zero": false},
      "axis": {"orient": "bottom", "ticks": false, "labels": false, "title": "air", "titleX": 277, "titleY": 92, "titleAlign": "left", "titleBaseline": "alphabetic", "titleFont": "Liberation Serif", "titleFontSize": 21, "titleColor": "#000000"}},
     "y": {"field": "y", "type": "quantitative", "scale": {"domain": [13.8, 46.2], "nice": false, "zero": false}, "axis": null}
    }},
   {"data": {"name": "dL"}, "transform": [{"filter": "datum.g === 'Clade A of M.c'"}], "mark": {"type": "line", "color": "#ff0000", "strokeWidth": 1.2},
    "encoding": {
     "x": {"field": "x", "type": "quantitative", "scale": {"domain": [13.4, 56.1], "nice": false, "zero": false},
      "axis": {"orient": "bottom", "ticks": false, "labels": false, "title": "(°C)", "titleX": 307, "titleY": 86, "titleAlign": "left", "titleBaseline": "alphabetic", "titleFont": "Liberation Serif", "titleFontSize": 32, "titleColor": "#000000"}},
     "y": {"field": "y", "type": "quantitative", "scale": {"domain": [13.8, 46.2], "nice": false, "zero": false}, "axis": null}
    }},
   {"data": {"name": "dL"}, "transform": [{"filter": "datum.g === 'Clade B of M.c'"}], "mark": {"type": "line", "color": "#00ff00", "strokeWidth": 1.2},
    "encoding": {
     "x": {"field": "x", "type": "quantitative", "scale": {"domain": [13.4, 56.1], "nice": false, "zero": false}, "axis": null},
     "y": {"field": "y", "type": "quantitative", "scale": {"domain": [13.8, 46.2], "nice": false, "zero": false}, "axis": null}
    }}
  ]
 }
]
}
